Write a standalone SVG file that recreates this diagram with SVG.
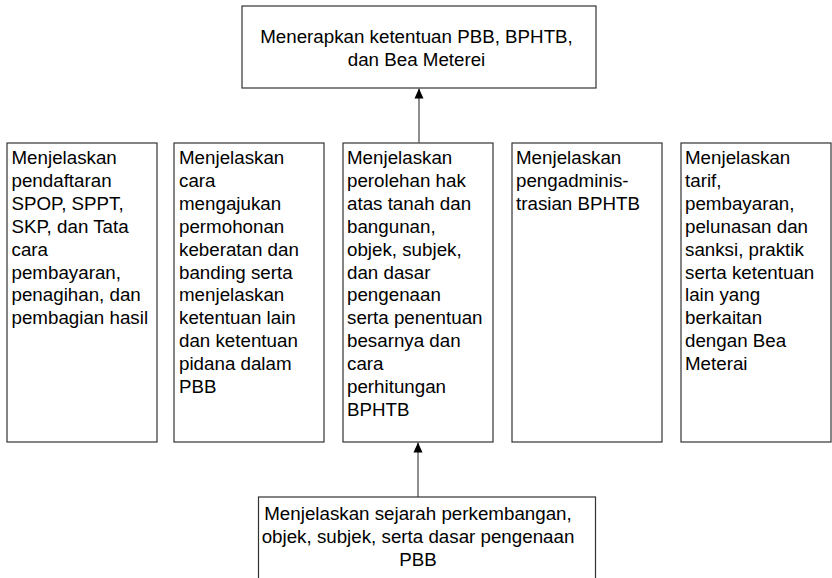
<svg xmlns="http://www.w3.org/2000/svg" width="832" height="578" viewBox="0 0 832 578">
<style>
.box{fill:#fff;stroke:#333;stroke-width:1.2}
.t{font-family:"Liberation Sans",Arial,sans-serif;font-size:18.75px;fill:#000}
.c{text-anchor:middle}
.conn{stroke:#444;stroke-width:1.2;fill:none}
</style>
<defs>
<marker id="ah" viewBox="0 0 10 10" refX="10" refY="5" markerWidth="10" markerHeight="10" markerUnits="userSpaceOnUse" orient="auto">
<path d="M0,0.5 L10,5 L0,9.5 Z" fill="#000"/>
</marker>
</defs>
<g id="connectors">
<line class="conn" x1="419" y1="142.5" x2="419" y2="88.5" marker-end="url(#ah)"/>
<line class="conn" x1="418" y1="497" x2="418" y2="442.5" marker-end="url(#ah)"/>
</g>
<g id="top">
<rect class="box" x="242" y="6" width="354" height="82"/>
<text class="t c" x="416.5" y="43">Menerapkan ketentuan PBB, BPHTB,</text>
<text class="t c" x="416.5" y="66">dan Bea Meterei</text>
</g>
<g id="box1">
<rect class="box" x="7" y="143" width="150" height="299"/>
<text class="t" x="11.5" y="164"><tspan x="11.5">Menjelaskan</tspan><tspan x="11.5" dy="22.9">pendaftaran</tspan><tspan x="11.5" dy="22.9">SPOP, SPPT,</tspan><tspan x="11.5" dy="22.9">SKP, dan Tata</tspan><tspan x="11.5" dy="22.9">cara</tspan><tspan x="11.5" dy="22.9">pembayaran,</tspan><tspan x="11.5" dy="22.9">penagihan, dan</tspan><tspan x="11.5" dy="22.9">pembagian hasil</tspan></text>
</g>
<g id="box2">
<rect class="box" x="174" y="143" width="150" height="299"/>
<text class="t" x="179" y="164"><tspan x="179">Menjelaskan</tspan><tspan x="179" dy="22.9">cara</tspan><tspan x="179" dy="22.9">mengajukan</tspan><tspan x="179" dy="22.9">permohonan</tspan><tspan x="179" dy="22.9">keberatan dan</tspan><tspan x="179" dy="22.9">banding serta</tspan><tspan x="179" dy="22.9">menjelaskan</tspan><tspan x="179" dy="22.9">ketentuan lain</tspan><tspan x="179" dy="22.9">dan ketentuan</tspan><tspan x="179" dy="22.9">pidana dalam</tspan><tspan x="179" dy="22.9">PBB</tspan></text>
</g>
<g id="box3">
<rect class="box" x="343" y="143" width="150" height="299"/>
<text class="t" x="347" y="164"><tspan x="347">Menjelaskan</tspan><tspan x="347" dy="22.9">perolehan hak</tspan><tspan x="347" dy="22.9">atas tanah dan</tspan><tspan x="347" dy="22.9">bangunan,</tspan><tspan x="347" dy="22.9">objek, subjek,</tspan><tspan x="347" dy="22.9">dan dasar</tspan><tspan x="347" dy="22.9">pengenaan</tspan><tspan x="347" dy="22.9">serta penentuan</tspan><tspan x="347" dy="22.9">besarnya dan</tspan><tspan x="347" dy="22.9">cara</tspan><tspan x="347" dy="22.9">perhitungan</tspan><tspan x="347" dy="22.9">BPHTB</tspan></text>
</g>
<g id="box4">
<rect class="box" x="512" y="143" width="150" height="299"/>
<text class="t" x="516" y="164"><tspan x="516">Menjelaskan</tspan><tspan x="516" dy="22.9">pengadminis-</tspan><tspan x="516" dy="22.9">trasian BPHTB</tspan></text>
</g>
<g id="box5">
<rect class="box" x="681" y="143" width="150" height="299"/>
<text class="t" x="685" y="164"><tspan x="685">Menjelaskan</tspan><tspan x="685" dy="22.9">tarif,</tspan><tspan x="685" dy="22.9">pembayaran,</tspan><tspan x="685" dy="22.9">pelunasan dan</tspan><tspan x="685" dy="22.9">sanksi, praktik</tspan><tspan x="685" dy="22.9">serta ketentuan</tspan><tspan x="685" dy="22.9">lain yang</tspan><tspan x="685" dy="22.9">berkaitan</tspan><tspan x="685" dy="22.9">dengan Bea</tspan><tspan x="685" dy="22.9">Meterai</tspan></text>
</g>
<g id="bottom">
<rect class="box" x="258.5" y="497" width="337" height="90"/>
<text class="t c" x="418" y="520">Menjelaskan sejarah perkembangan,</text>
<text class="t c" x="418" y="543">objek, subjek, serta dasar pengenaan</text>
<text class="t c" x="418" y="566">PBB</text>
</g>
</svg>
